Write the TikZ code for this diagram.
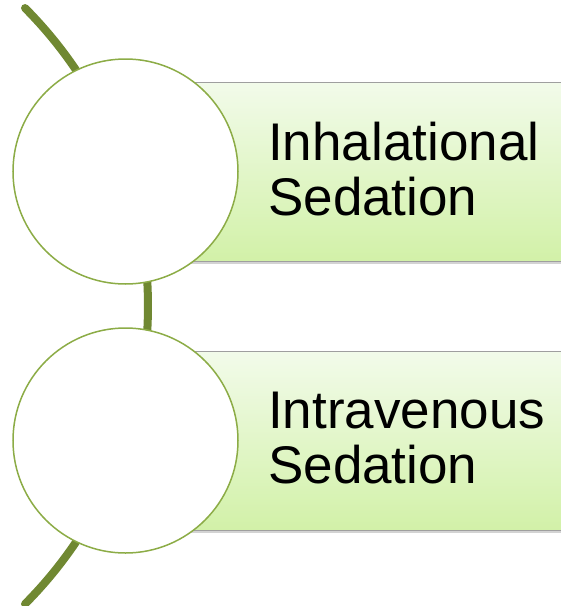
\documentclass[tikz,border=0pt]{standalone}
\usepackage{fontspec}
\setmainfont{Liberation Sans}
\usepackage{tikz}
\usetikzlibrary{shadows}

\definecolor{vine}{RGB}{112,136,50}
\definecolor{ring}{RGB}{140,172,70}
\definecolor{bartop}{RGB}{242,251,234}
\definecolor{barbot}{RGB}{210,241,168}

\begin{document}
\begin{tikzpicture}[x=1pt,y=-1pt,
      circ node/.style={circle,draw=ring,line width=1.5pt,fill=white,
        minimum size=225pt,inner sep=0pt},
      bar node/.style={rectangle,draw=gray!75,line width=0.8pt,
        top color=bartop,bottom color=barbot,minimum width=445pt,
        minimum height=179pt,inner sep=0pt,
        drop shadow={shadow xshift=0pt,shadow yshift=-3pt,opacity=0.35}},
      label node/.style={anchor=west,inner sep=0pt,align=left,
        font=\fontsize{53}{55}\selectfont}]

      \useasboundingbox (0,0) rectangle (561,606);
      \clip (0,0) rectangle (561,606);

      % vine behind everything
      \draw[vine,line width=8pt,line cap=round]
      (-274.5,306) ++(-44.85:422.5) arc (-44.85:44.85:422.5);

      \node[bar node] (b1) at (347.5,171.5) {};
      \node[bar node] (b2) at (347.5,440.5) {};

      \node[circ node] (c1) at (125.5,171.5) {};
      \node[circ node] (c2) at (125.5,440.5) {};

      \node[label node] (t1) at (268,169) {Inhalational\\Sedation};
      \node[label node] (t2) at (268,438) {Intravenous\\Sedation};
    \end{tikzpicture}
\end{document}
